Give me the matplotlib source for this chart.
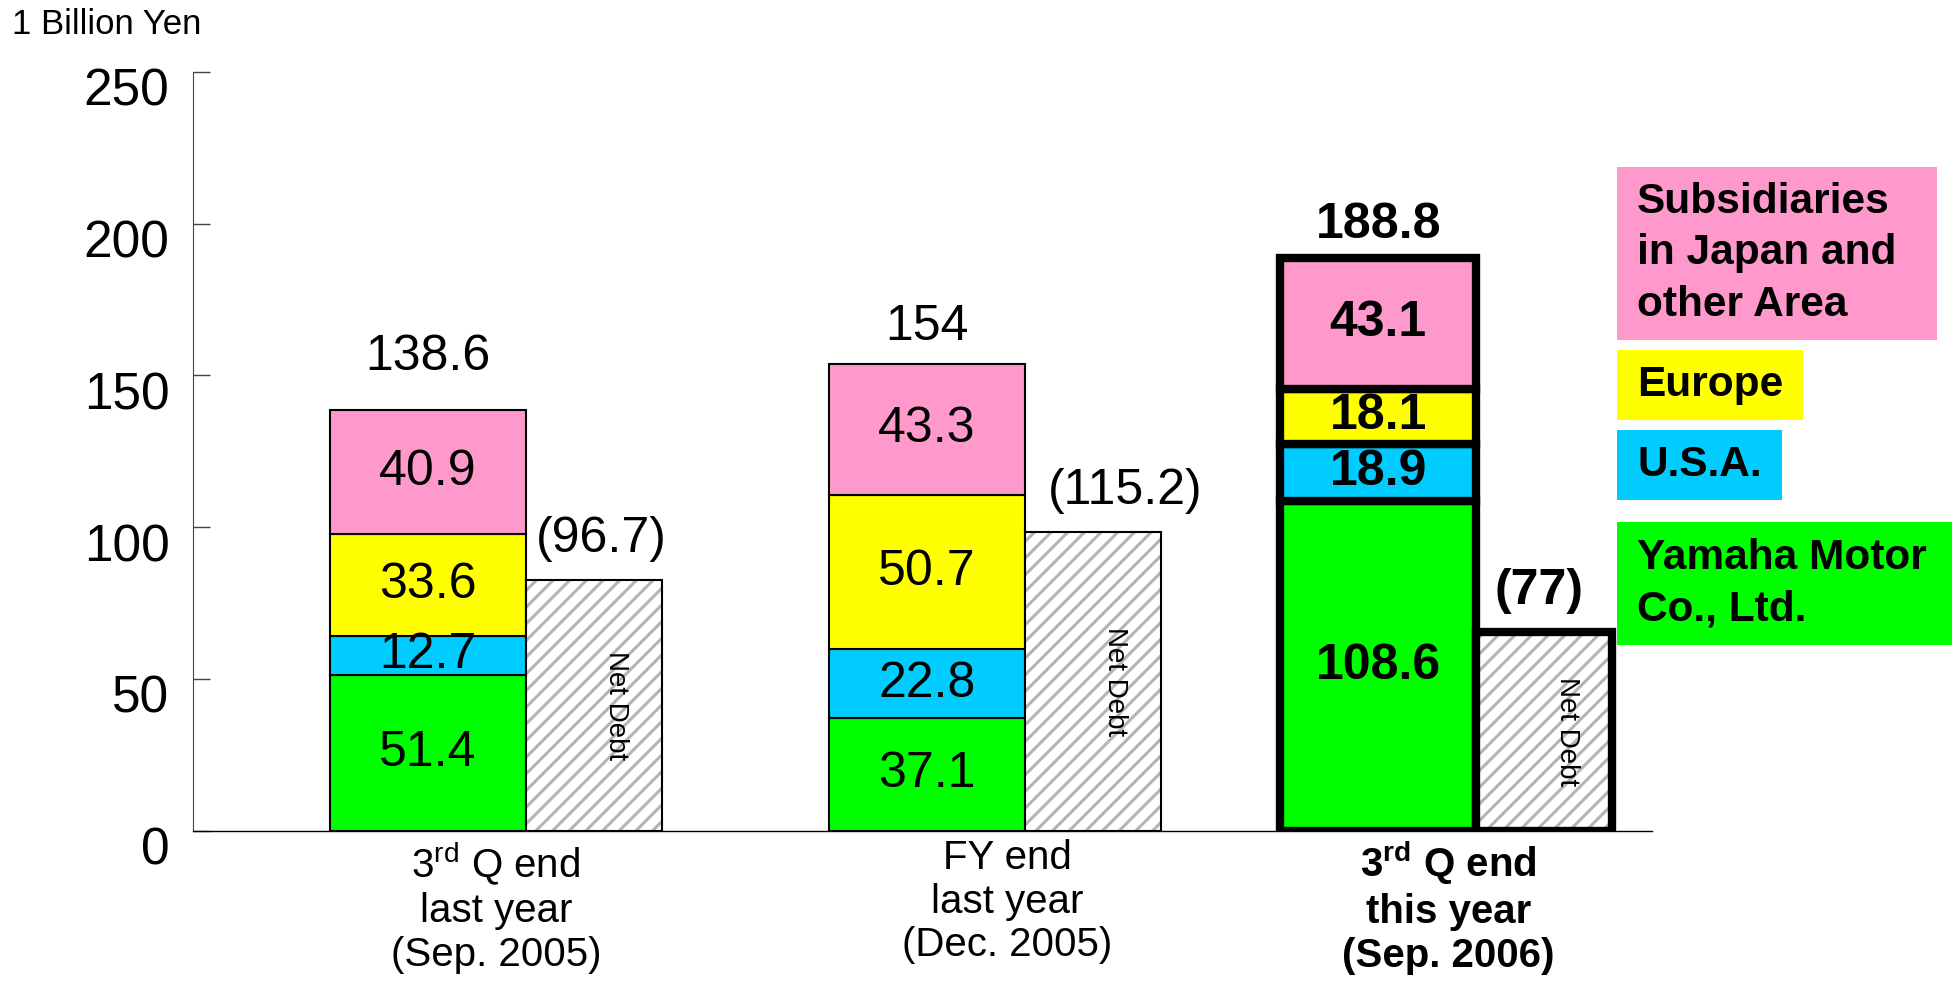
import matplotlib.pyplot as plt
from matplotlib.patches import Rectangle
from matplotlib.transforms import ScaledTranslation

plt.rcParams['font.family'] = ['Liberation Sans', 'DejaVu Sans']
plt.rcParams['mathtext.fontset'] = 'custom'
plt.rcParams['mathtext.rm'] = 'Liberation Sans'
plt.rcParams['mathtext.bf'] = 'Liberation Sans:bold'
plt.rcParams['hatch.linewidth'] = 2.2

# --- data (1 billion yen) ---
periods = ["3$^{\\mathregular{rd}}$ Q end\nlast year\n(Sep. 2005)",
           "FY end\nlast year\n(Dec. 2005)",
           "3$^{\\mathbf{rd}}$ Q end\nthis year\n(Sep. 2006)"]
yamaha = [51.4, 37.1, 108.6]
usa = [12.7, 22.8, 18.9]
europe = [33.6, 50.7, 18.1]
other = [40.9, 43.3, 43.1]
totals = ["138.6", "154", "188.8"]
net_debt = ["(96.7)", "(115.2)", "(77)"]
net_debt_bar = [82.6, 98.5, 65.6]   # height the net debt bars are drawn at

segments = [yamaha, usa, europe, other]
seg_colors = ["#00ff00", "#00ccff", "#ffff00", "#ff99cc"]
legend_names = ["Yamaha Motor\nCo., Ltd.", "U.S.A.", "Europe",
                "Subsidiaries\nin Japan and\nother Area"]

W, H = 1955, 983
fig = plt.figure(figsize=(W / 100, H / 100), dpi=100)
ax = fig.add_axes([193 / W, 1 - 830.7 / H, (1652 - 193) / W, (830.7 - 72) / H])

left = [110, 510, 872]
bw, nw = 157, 109
label_x = [243, 653, 1007]
total_y = [156, 166, 199.5]
debt_dx = [6, 26, -4]

for i in range(3):
    bold = i == 2
    lw = 6 if bold else 1.5
    fw = 'bold' if bold else 'normal'
    bottom = 0
    for seg, col in zip(segments, seg_colors):
        ax.bar(left[i], seg[i], bottom=bottom, width=bw, align='edge',
               color=col, edgecolor='black', linewidth=lw, zorder=2)
        ax.text(left[i] + bw / 2, bottom + seg[i] / 2, f"{seg[i]}",
                ha='center', va='center', fontsize=36, fontweight=fw, zorder=4)
        bottom += seg[i]
    ax.text(left[i] + bw / 2, total_y[i], totals[i], ha='center', va='center',
            fontsize=36, fontweight=fw)

    nx = left[i] + bw
    ax.bar(nx, net_debt_bar[i], width=nw, align='edge', color='white',
           edgecolor='#b4b4b4', hatch='//', linewidth=0, zorder=2)
    ax.bar(nx, net_debt_bar[i], width=nw, align='edge', fill=False,
           edgecolor='black', linewidth=lw, zorder=3)
    ax.text(nx + nw / 2 + 18, net_debt_bar[i] / 2, "Net Debt", rotation=270,
            ha='center', va='center', fontsize=20, zorder=4)
    ax.text(nx + nw / 2 + debt_dx[i], net_debt_bar[i] + 13.5, net_debt[i],
            ha='center', va='center', fontsize=36, fontweight=fw)

    ax.annotate(periods[i], xy=(label_x[i], 0), xytext=(0, -6),
                textcoords='offset points', ha='center', va='top',
                fontsize=29, fontweight=fw, linespacing=1.19,
                annotation_clip=False)

ax.set_xlim(0, 1170)
ax.set_ylim(0, 250)
ax.set_xticks([])
ax.set_yticks(range(0, 251, 50))
ax.tick_params(axis='y', direction='in', length=12, width=1, color='#444444',
               labelsize=37, pad=17)
for lab in ax.get_yticklabels():
    lab.set_transform(lab.get_transform() + ScaledTranslation(0, -0.15, fig.dpi_scale_trans))
for s in ['top', 'right']:
    ax.spines[s].set_visible(False)
ax.spines['left'].set_color('#444444')
ax.spines['bottom'].set_linewidth(1)

fig.text(12 / W, 1 - 24 / H, "1 Billion Yen", fontsize=25, va='center', ha='left')

# legend boxes (figure pixels: x0, y0, x1, y1)
boxes = [(1617, 522, 1952, 645), (1617, 430, 1782, 500),
         (1617, 350, 1803, 420), (1617, 167, 1937, 340)]
for (x0, y0, x1, y1), col, name in zip(boxes, seg_colors, legend_names):
    fig.add_artist(Rectangle((x0 / W, 1 - y1 / H), (x1 - x0) / W, (y1 - y0) / H,
                             transform=fig.transFigure, color=col, lw=0))
    fig.text(1637 / W, 1 - (y0 + y1) / 2 / H, name, fontsize=30.5, fontweight='bold',
             va='center', ha='left', linespacing=1.38)

fig.savefig("out.png", dpi=100)
